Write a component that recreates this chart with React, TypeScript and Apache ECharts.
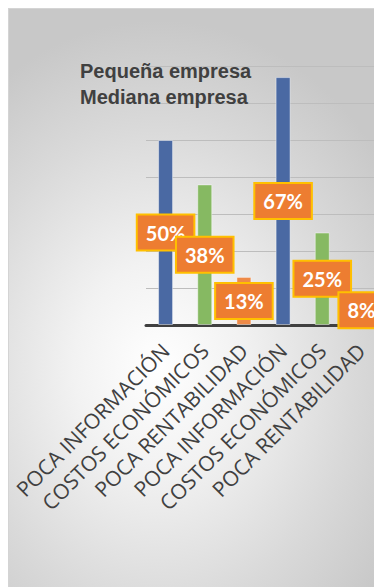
import React, { useEffect, useRef } from "react";
import * as echarts from "echarts";

const categories = [
  "POCA INFORMACIÓN",
  "COSTOS ECONÓMICOS",
  "POCA RENTABILIDAD",
  "POCA INFORMACIÓN",
  "COSTOS ECONÓMICOS",
  "POCA RENTABILIDAD",
];
const values = [50, 38, 13, 67, 25, 8];
const barColors = ["#4A69A3", "#86B962", "#EE8A48", "#4A69A3", "#86B962", "#EE8A48"];
const legendLines = ["Pequeña empresa", "Mediana empresa"];

export default function App() {
  const ref = useRef<HTMLDivElement>(null);
  useEffect(() => {
    if (!ref.current) return;
    const chart = echarts.init(ref.current, undefined, { renderer: "svg" });
    chart.setOption({
      animation: false,
      backgroundColor: "transparent",
      title: {
        text: legendLines.join("\n"),
        left: 66,
        top: 44,
        textStyle: {
          fontFamily: "Liberation Sans",
          fontSize: 20,
          fontWeight: "bold",
          color: "#404040",
          lineHeight: 26,
        },
      },
      grid: { left: 137, right: 1, top: 57, bottom: 262, containLabel: false },
      xAxis: {
        type: "category",
        data: categories,
        axisLine: { show: true, lineStyle: { color: "#404040", width: 3 } },
        axisTick: { show: false },
        axisLabel: {
          rotate: 45,
          interval: 0,
          margin: 22,
          fontFamily: "Open Sans",
          fontSize: 21,
          color: "#404040",
        },
      },
      yAxis: {
        type: "value",
        min: 0,
        max: 70,
        interval: 10,
        axisLabel: { show: false },
        axisLine: { show: false },
        axisTick: { show: false },
        splitLine: { lineStyle: { color: "#BDBDBD", width: 1 } },
      },
      series: [
        {
          type: "bar",
          barWidth: 15,
          data: values.map((v, i) => ({
            value: v,
            itemStyle: {
              color: barColors[i],
              borderColor: "rgba(255,255,255,0.45)",
              borderWidth: 1,
            },
          })),
          label: {
            show: true,
            position: "inside",
            formatter: "{c}%",
            fontFamily: "Lato",
            fontSize: 20,
            fontWeight: "bold",
            color: "#FFFFFF",
            backgroundColor: "#ED7D31",
            borderColor: "#FFC000",
            borderWidth: 2,
            lineHeight: 22,
            padding: [7, 8, 5, 8],
          },
        },
      ],
    });
    return () => chart.dispose();
  }, []);
  return (
    <div
      style={{
        width: 374,
        height: 579,
        boxSizing: "border-box",
        borderLeft: "1px solid #D4D4D4",
        borderTop: "1px solid #D4D4D4",
        background:
          "radial-gradient(ellipse 75% 60% at 40% 62%, #FFFFFF 0%, #F2F2F2 30%, #D9D9D9 70%, #C8C8C8 100%)",
        overflow: "hidden",
      }}
    >
      <div ref={ref} style={{ width: 373, height: 578 }} />
    </div>
  );
}
